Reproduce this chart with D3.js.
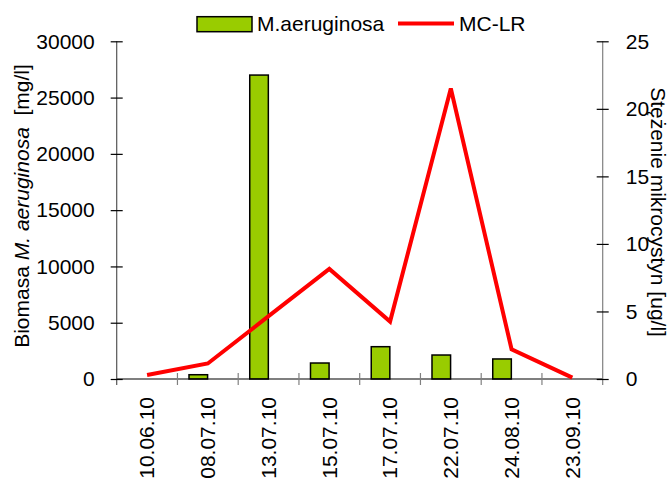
<!DOCTYPE html>
<html><head><meta charset="utf-8">
<script src="https://cdn.jsdelivr.net/npm/d3@7"></script>
<style>
body{margin:0;background:#fff;}
text{font-family:"Liberation Sans",Arial,sans-serif;}
</style></head>
<body><svg id="c" width="671" height="479"></svg>
<script>
const categories = ["10.06.10","08.07.10","13.07.10","15.07.10","17.07.10","22.07.10","24.08.10","23.09.10"];
const biomass = [0, 380, 27000, 1420, 2870, 2130, 1780, 0];
const mclr = [0.3, 1.15, 4.65, 8.15, 4.25, 21.5, 2.2, 0.1];
const leftTicks = [0, 5000, 10000, 15000, 20000, 25000, 30000];
const rightTicks = [0, 5, 10, 15, 20, 25];

const svg = d3.select("#c");
const L = 116.7, R = 602.7, T = 41.3, B = 379;
const FS = 21;

const x = d3.scaleBand().domain(categories).range([L, R]).padding(0);
const yL = d3.scaleLinear().domain([0, 30000]).range([B, T]);
const yR = d3.scaleLinear().domain([0, 25]).range([B, T]);
const bw = x.bandwidth();

// bars
svg.append("g").selectAll("rect").data(categories.map((c,i)=>({c, v: biomass[i]})).filter(d=>d.v>0))
  .join("rect")
  .attr("x", d => x(d.c) + bw*0.19)
  .attr("width", bw*0.306)
  .attr("y", d => yL(d.v))
  .attr("height", d => B - yL(d.v))
  .attr("fill", "#99cc00").attr("stroke", "#000").attr("stroke-width", 1.5);

// x axis line
svg.append("line").attr("x1", L).attr("x2", R).attr("y1", B).attr("y2", B).attr("stroke", "#000").attr("stroke-width", 1.2);
// x ticks at band boundaries
const bounds = categories.map(c => x(c)).concat([R]);
svg.append("g").selectAll("line").data(bounds.slice(1, -1)).join("line")
  .attr("x1", d => d).attr("x2", d => d).attr("y1", B - 6).attr("y2", B + 6)
  .attr("stroke", "#808080").attr("stroke-width", 1.2);
// x labels
svg.append("g").selectAll("text").data(categories).join("text")
  .attr("transform", d => `translate(${x(d) + bw/2},397) rotate(-90)`)
  .attr("text-anchor", "end").attr("dy", "0.35em")
  .attr("font-size", FS).attr("fill", "#000").text(d => d);

// left axis
const gl = svg.append("g").attr("transform", `translate(${L},0)`)
  .call(d3.axisLeft(yL).tickValues(leftTicks).tickFormat(d3.format("d")).tickSize(6).tickPadding(16));
gl.select(".domain").attr("stroke", "#555").attr("stroke-width", 1.2).attr("d", `M0,${T}V${B+6}`);
gl.selectAll(".tick line").attr("x1", -6).attr("x2", 6).attr("stroke", "#000").attr("stroke-width", 1.2);
gl.selectAll(".tick text").attr("font-size", FS).attr("font-family", "Liberation Sans, Arial, sans-serif").attr("fill", "#000");

// right axis
const gr = svg.append("g").attr("transform", `translate(${R},0)`)
  .call(d3.axisRight(yR).tickValues(rightTicks).tickSize(6).tickPadding(17));
gr.select(".domain").attr("stroke", "#808080").attr("stroke-width", 1.2).attr("d", `M0,${T}V${B+6}`);
gr.selectAll(".tick line").attr("x1", -6).attr("x2", 6).attr("stroke", "#000").attr("stroke-width", 1.2);
gr.selectAll(".tick text").attr("font-size", FS).attr("font-family", "Liberation Sans, Arial, sans-serif").attr("fill", "#000");

// line
const line = d3.line().x((d,i) => x(categories[i]) + bw/2).y(d => yR(d));
svg.append("path").datum(mclr).attr("d", line).attr("fill", "none")
  .attr("stroke", "#ff0000").attr("stroke-width", 4).attr("stroke-linejoin", "miter");

// axis titles
const lt = svg.append("text").attr("transform", "translate(29,206) rotate(-90)")
  .attr("text-anchor", "middle").attr("font-size", FS).attr("fill", "#000");
lt.append("tspan").text("Biomasa ");
lt.append("tspan").attr("font-style", "italic").text("M. aeruginosa");
lt.append("tspan").attr("xml:space", "preserve").style("white-space", "pre").text("  [mg/l]");

svg.append("text").attr("transform", "translate(651,212) rotate(90)")
  .attr("text-anchor", "middle").attr("font-size", FS).attr("fill", "#000")
  .text("Stężenie mikrocystyn [ug/l]");

// legend
svg.append("rect").attr("x", 197).attr("y", 16.7).attr("width", 55).attr("height", 15)
  .attr("fill", "#99cc00").attr("stroke", "#000").attr("stroke-width", 1.5);
svg.append("text").attr("x", 257).attr("y", 31).attr("font-size", FS).attr("fill", "#000").text("M.aeruginosa");
svg.append("line").attr("x1", 398).attr("x2", 454).attr("y1", 23.5).attr("y2", 23.5)
  .attr("stroke", "#ff0000").attr("stroke-width", 4);
svg.append("text").attr("x", 459).attr("y", 31).attr("font-size", FS).attr("fill", "#000").text("MC-LR");
</script></body></html>
